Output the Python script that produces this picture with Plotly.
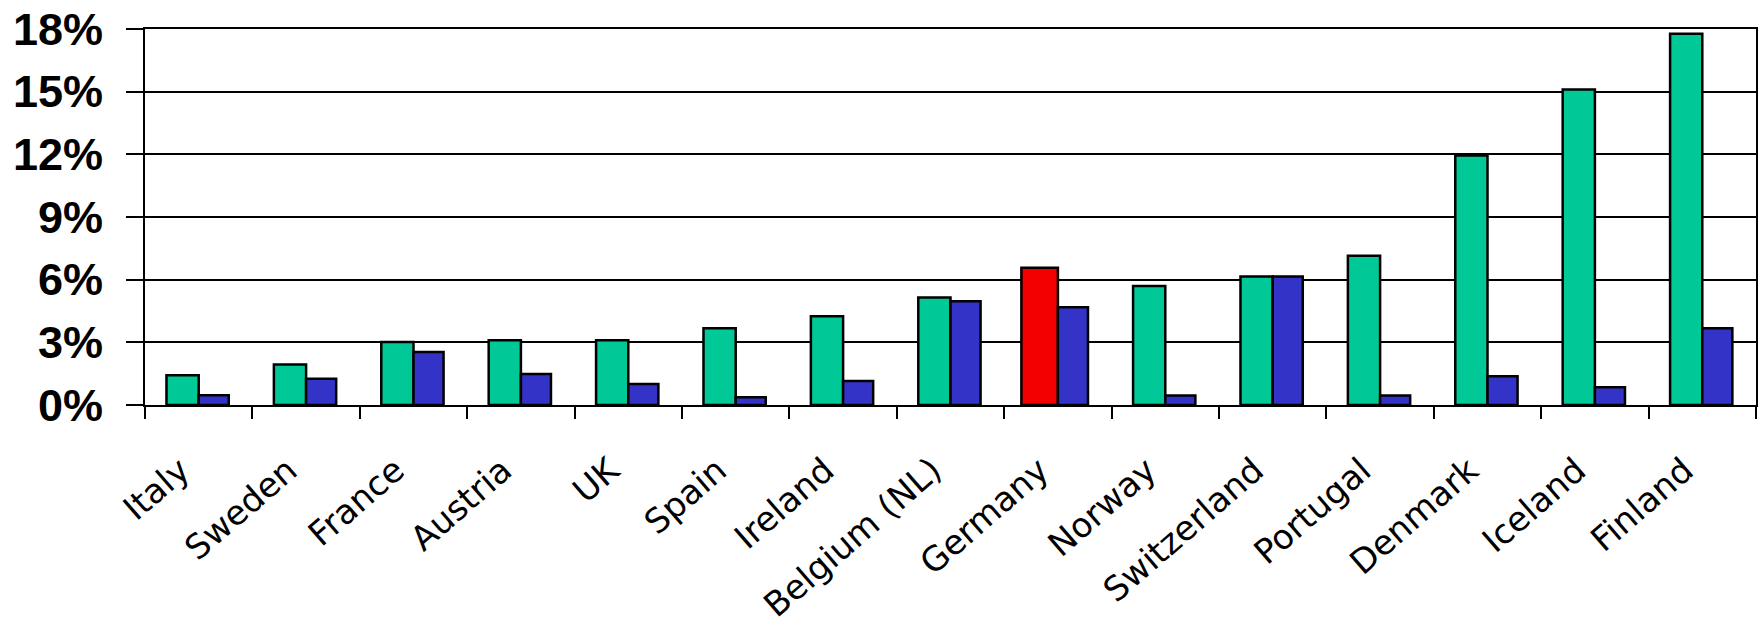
import plotly.graph_objects as go

countries = ["Italy", "Sweden", "France", "Austria", "UK", "Spain", "Ireland",
             "Belgium (NL)", "Germany", "Norway", "Switzerland", "Portugal",
             "Denmark", "Iceland", "Finland"]
series_a = [1.42, 1.94, 3.02, 3.1, 3.1, 3.68, 4.25, 5.15, 6.57, 5.7, 6.15, 7.15, 11.95, 15.1, 17.77]
series_b = [0.47, 1.26, 2.54, 1.49, 1.0, 0.37, 1.15, 4.97, 4.68, 0.46, 6.15, 0.46, 1.38, 0.85, 3.68]
highlight = "Germany"
y_ticks = [0, 3, 6, 9, 12, 15, 18]
y_tick_text = ["0%", "3%", "6%", "9%", "12%", "15%", "18%"]

GREEN = "#00C896"
BLUE = "#3333C8"
RED = "#F20000"

w_a = [0.34 if c == highlight else 0.30 for c in countries]
w_b = [0.28 for c in countries]
colors_a = [RED if c == highlight else GREEN for c in countries]

fig = go.Figure()
fig.add_trace(go.Bar(x=countries, y=series_a, width=w_a, offset=[-w for w in w_a],
                     marker=dict(color=colors_a, line=dict(color="black", width=2.5)),
                     showlegend=False))
fig.add_trace(go.Bar(x=countries, y=series_b, width=w_b, offset=[0 for _ in w_b],
                     marker=dict(color=BLUE, line=dict(color="black", width=2.5)),
                     showlegend=False))

fig.update_layout(
    width=1762, height=633,
    margin=dict(l=145, r=4, t=24, b=228),
    paper_bgcolor="white", plot_bgcolor="white",
    barmode="overlay",
    xaxis=dict(type="category", tickson="boundaries", ticks="outside", ticklen=12,
               tickwidth=2, tickcolor="black", showline=True, linecolor="black",
               linewidth=2, mirror=True, showgrid=False, tickangle=-41,
               ticklabelstandoff=30, ticklabelshift=-18,
               tickfont=dict(family="DejaVu Sans", size=34, color="black")),
    yaxis=dict(range=[0, 18], tickvals=y_ticks, ticktext=y_tick_text,
               ticks="outside", ticklen=17, tickwidth=2, tickcolor="black",
               showline=True, linecolor="black", linewidth=2, mirror=True,
               showgrid=True, gridcolor="black", gridwidth=2, zeroline=False,
               ticklabelstandoff=14, ticklabeloverflow="allow",
               tickfont=dict(family="Liberation Sans", size=45, color="black", weight="bold")),
)

fig.write_html("out.html")
